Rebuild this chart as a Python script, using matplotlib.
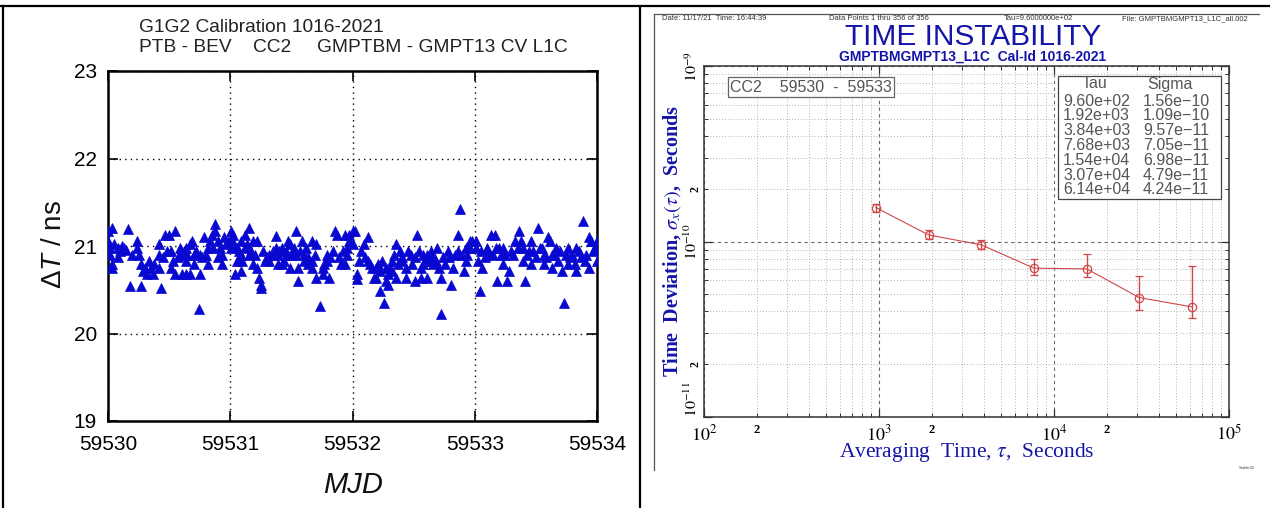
import numpy as np
import matplotlib
matplotlib.use("Agg")
import matplotlib.pyplot as plt
from matplotlib.lines import Line2D
from matplotlib.patches import Rectangle
from matplotlib.ticker import FixedLocator, FixedFormatter

# ---------------------------------------------------------------- data
MJD0 = 59530

day_offset = [
    0.000, 0.000, 0.017, 0.017, 0.033, 0.033, 0.033, 0.050, 0.084, 0.084,
    0.100, 0.117, 0.130, 0.150, 0.167, 0.184, 0.200, 0.234, 0.234, 0.251,
    0.267, 0.267, 0.284, 0.300, 0.317, 0.334, 0.350, 0.368, 0.380, 0.418,
    0.418, 0.418, 0.434, 0.450, 0.468, 0.480, 0.501, 0.518, 0.518, 0.530,
    0.551, 0.551, 0.570, 0.585, 0.585, 0.602, 0.620, 0.635, 0.635, 0.635,
    0.650, 0.668, 0.668, 0.685, 0.702, 0.702, 0.720, 0.742, 0.752, 0.752,
    0.770, 0.785, 0.802, 0.819, 0.819, 0.835, 0.852, 0.860, 0.879, 0.879,
    0.902, 0.902, 0.920, 0.936, 0.936, 0.952, 0.969, 0.985,
    1.003, 1.003, 1.003, 1.020, 1.030, 1.037, 1.053, 1.053, 1.070, 1.087,
    1.087, 1.087, 1.100, 1.120, 1.120, 1.140, 1.154, 1.154, 1.170, 1.187,
    1.187, 1.200, 1.221, 1.221, 1.237, 1.254, 1.254, 1.271, 1.287, 1.300,
    1.321, 1.321, 1.338, 1.350, 1.371, 1.371, 1.388, 1.388, 1.400, 1.421,
    1.421, 1.440, 1.454, 1.454, 1.471, 1.488, 1.488, 1.505, 1.520, 1.538,
    1.538, 1.555, 1.555, 1.570, 1.588, 1.605, 1.605, 1.620, 1.638, 1.638,
    1.672, 1.672, 1.672, 1.690, 1.705, 1.705, 1.732, 1.755, 1.755, 1.770,
    1.789, 1.789, 1.805, 1.820, 1.839, 1.855, 1.872, 1.890, 1.906, 1.920,
    1.939, 1.939, 1.956, 1.956, 1.972, 1.972,
    2.007, 2.007, 2.023, 2.040, 2.040, 2.057, 2.070, 2.090, 2.100, 2.124,
    2.124, 2.140, 2.157, 2.174, 2.190, 2.190, 2.210, 2.224, 2.224, 2.241,
    2.257, 2.274, 2.274, 2.291, 2.291, 2.310, 2.324, 2.324, 2.340, 2.358,
    2.358, 2.374, 2.390, 2.408, 2.408, 2.441, 2.441, 2.458, 2.475, 2.490,
    2.508, 2.508, 2.525, 2.540, 2.558, 2.558, 2.575, 2.575, 2.590, 2.608,
    2.608, 2.625, 2.640, 2.658, 2.658, 2.680, 2.692, 2.709, 2.725, 2.725,
    2.740, 2.759, 2.780, 2.792, 2.809, 2.825, 2.840, 2.859, 2.859, 2.876,
    2.892, 2.909, 2.926, 2.926, 2.940, 2.959, 2.959, 2.976,
    3.013, 3.013, 3.030, 3.047, 3.050, 3.063, 3.080, 3.097, 3.097, 3.110,
    3.130, 3.147, 3.164, 3.170, 3.180, 3.197, 3.214, 3.231, 3.231, 3.250,
    3.264, 3.281, 3.300, 3.314, 3.331, 3.350, 3.364, 3.381, 3.398, 3.398,
    3.414, 3.431, 3.440, 3.464, 3.464, 3.480, 3.498, 3.515, 3.531, 3.550,
    3.565, 3.565, 3.580, 3.598, 3.615, 3.632, 3.632, 3.650, 3.665, 3.682,
    3.700, 3.715, 3.732, 3.749, 3.765, 3.765, 3.780, 3.799, 3.816, 3.832,
    3.832, 3.850, 3.866, 3.882, 3.899, 3.910, 3.933, 3.933, 3.949, 3.966,
    3.980, 3.999, 3.999,
]

delta_t_ns = [
    21.17, 21.06, 20.98, 20.90, 20.79, 20.75, 21.21, 21.02, 20.98, 20.87,
    20.94, 21.00, 20.98, 20.96, 21.19, 20.54, 20.90, 21.06, 20.98, 20.90,
    20.54, 20.79, 20.71, 20.75, 20.68, 20.83, 20.75, 20.68, 20.79, 21.02,
    20.90, 20.75, 20.52, 20.87, 21.13, 20.94, 21.13, 20.94, 20.75, 20.83,
    21.17, 20.68, 20.87, 20.98, 20.90, 20.68, 20.94, 20.98, 20.83, 20.68,
    20.90, 21.02, 20.68, 21.06, 20.90, 20.79, 20.94, 20.28, 20.68, 20.90,
    20.87, 21.10, 20.90, 20.79, 20.98, 21.06, 21.13, 20.98, 21.25, 21.17,
    21.06, 20.87, 20.98, 20.90, 20.79, 21.10, 21.02, 21.06,
    21.17, 21.06, 20.98, 21.13, 21.02, 20.68, 20.83, 20.98, 20.94, 21.06,
    20.90, 20.71, 20.83, 21.13, 20.98, 21.02, 21.21, 20.90, 20.94, 21.06,
    20.79, 20.90, 21.06, 20.75, 20.64, 20.52, 20.56, 20.94, 20.83, 20.87,
    20.83, 20.90, 20.90, 20.94, 21.11, 20.98, 20.79, 20.90, 20.94, 20.79,
    20.98, 20.83, 20.94, 20.90, 21.06, 20.75, 21.02, 20.90, 20.98, 21.17,
    20.90, 20.75, 20.60, 20.94, 21.06, 20.83, 20.90, 20.98, 20.79, 20.87,
    21.06, 20.75, 20.83, 20.90, 20.64, 21.02, 20.31, 20.75, 20.68, 20.79,
    20.83, 20.90, 20.64, 20.87, 20.94, 21.17, 21.13, 20.87, 20.79, 20.94,
    21.13, 20.79, 20.98, 20.90, 21.06, 21.13,
    21.17, 21.02, 21.17, 20.68, 20.62, 20.83, 20.94, 21.02, 20.87, 21.10,
    20.83, 20.79, 20.75, 20.64, 20.64, 20.75, 20.79, 20.71, 20.49, 20.83,
    20.35, 20.75, 20.60, 20.68, 20.56, 20.75, 20.71, 20.83, 20.90, 21.02,
    20.64, 20.79, 20.94, 20.83, 20.87, 20.75, 20.64, 20.94, 20.90, 20.79,
    20.87, 20.60, 21.13, 20.94, 20.75, 20.64, 20.90, 20.79, 20.83, 20.64,
    20.90, 20.83, 20.94, 20.79, 20.87, 20.83, 20.98, 20.75, 20.22, 20.64,
    20.87, 20.79, 20.94, 20.87, 20.56, 20.75, 20.90, 21.13, 20.94, 21.42,
    20.90, 20.71, 20.83, 20.98, 20.90, 20.98, 21.06, 21.06,
    21.06, 20.98, 20.83, 20.49, 20.94, 20.75, 20.87, 20.90, 20.98, 20.94,
    21.13, 20.90, 21.13, 20.98, 20.60, 20.98, 20.90, 20.79, 20.98, 20.90,
    20.60, 20.71, 20.94, 20.90, 21.06, 20.98, 21.17, 21.06, 20.83, 20.98,
    20.60, 20.90, 20.94, 20.79, 21.06, 20.94, 20.87, 21.21, 20.98, 20.98,
    20.90, 20.79, 20.87, 21.10, 21.06, 20.90, 20.75, 20.90, 20.98, 20.83,
    20.94, 20.71, 20.35, 20.90, 20.98, 20.79, 20.87, 20.90, 20.79, 20.71,
    20.98, 20.94, 20.87, 21.29, 20.83, 20.90, 21.10, 20.75, 21.06, 20.94,
    20.98, 20.83, 21.06,
]

mjd_ticks = [59530, 59531, 59532, 59533, 59534]
dt_ticks = [19, 20, 21, 22, 23]

# time deviation results (Stable32 run)
tau_s = [960, 1920, 3840, 7680, 15400, 30700, 61400]
tdev_s = [1.56e-10, 1.09e-10, 9.57e-11, 7.05e-11, 6.98e-11, 4.79e-11, 4.24e-11]
tdev_low = [1.48e-10, 1.03e-10, 9.05e-11, 6.43e-11, 6.26e-11, 4.07e-11, 3.68e-11]
tdev_high = [1.64e-10, 1.16e-10, 1.02e-10, 7.93e-11, 8.47e-11, 6.34e-11, 7.23e-11]

tau_decades = [1e2, 1e3, 1e4, 1e5]
tau_decade_labels = [r"$10^{2}$", r"$10^{3}$", r"$10^{4}$", r"$10^{5}$"]
sig_decades = [1e-11, 1e-10, 1e-9]
sig_decade_labels = [r"$10^{-11}$", r"$10^{-10}$", r"$10^{-9}$"]

# ---------------------------------------------------------------- style
plt.rcParams["font.family"] = ["Liberation Sans", "DejaVu Sans"]
plt.rcParams["mathtext.fontset"] = "stix"
plt.rcParams["mathtext.rm"] = "Liberation Sans"
plt.rcParams["mathtext.it"] = "Liberation Sans:italic"
plt.rcParams["mathtext.bf"] = "Liberation Sans:bold"

W, H = 1270, 508
fig = plt.figure(figsize=(W / 100, H / 100), dpi=100)
fig.patch.set_facecolor("white")


def fx(x):
    return x / W


def fy(y):
    return 1 - y / H


BLUE = "#0808d0"
NAVY = "#1414a8"
RED = "#d04848"

# page frame and panel divider
for xs, ys in [((0, W), (6, 6)), ((3, 3), (6, H)), ((640, 640), (6, H))]:
    fig.add_artist(Line2D([fx(v) for v in xs], [fy(v) for v in ys],
                          transform=fig.transFigure, color="black", lw=1.6))

# ---------------------------------------------------------------- left panel
axL = fig.add_axes([fx(108), fy(421), fx(489), 350 / H])
axL.plot(MJD0 + np.asarray(day_offset), delta_t_ns, ls="none", marker="^",
         ms=7.8, mfc=BLUE, mec=BLUE, mew=0.5, zorder=3)
axL.set_xlim(mjd_ticks[0], mjd_ticks[-1])
axL.set_ylim(dt_ticks[0], dt_ticks[-1])
axL.set_xticks(mjd_ticks)
axL.set_xticklabels([str(v) for v in mjd_ticks])
axL.set_yticks(dt_ticks)
axL.set_yticklabels([str(v) for v in dt_ticks])
axL.grid(True, ls=(0, (1, 3)), color="black", lw=1.0)
axL.tick_params(direction="in", length=7, width=1.2, top=True, right=True,
                labelsize=15, colors="black")
axL.tick_params(axis="x", pad=10)
axL.tick_params(axis="y", pad=8)
for s in axL.spines.values():
    s.set_linewidth(1.8)

top_txt = dict(fontsize=13.8, ha="left", va="center", color="#222222")
fig.text(fx(139), fy(27), "G1G2 Calibration 1016-2021", **top_txt)
fig.text(fx(139), fy(48), "PTB - BEV", **top_txt)
fig.text(fx(253), fy(48), "CC2", **top_txt)
fig.text(fx(317), fy(48), "GMPTBM - GMPT13 CV L1C", **top_txt)
fig.text(fx(54), fy(245), r"$\Delta T$ / ns", fontsize=20, rotation=90,
         ha="center", va="center", math_fontfamily="custom", color="#111111")
fig.text(fx(353), fy(485), "MJD", fontsize=21, style="italic", ha="center",
         va="center", color="#111111")

# ---------------------------------------------------------------- right panel
# screenshot frame
for xs, ys in [((654, 1259), (14, 14)), ((654, 654), (14, 470))]:
    fig.add_artist(Line2D([fx(v) for v in xs], [fy(v) for v in ys],
                          transform=fig.transFigure, color="#555555", lw=0.9))

axR = fig.add_axes([fx(704), fy(417), fx(525), 351 / H])
axR.set_xscale("log")
axR.set_yscale("log")
axR.set_xlim(tau_decades[0], tau_decades[-1])
axR.set_ylim(sig_decades[0], sig_decades[-1])

axR.xaxis.set_major_locator(FixedLocator(tau_decades))
axR.xaxis.set_major_formatter(FixedFormatter(tau_decade_labels))
xminor = [m * d for d in tau_decades[:-1] for m in range(2, 10)]
axR.xaxis.set_minor_locator(FixedLocator(xminor))
axR.xaxis.set_minor_formatter(FixedFormatter(
    ["2" if m == 2 else "" for d in tau_decades[:-1] for m in range(2, 10)]))

axR.yaxis.set_major_locator(FixedLocator(sig_decades))
axR.yaxis.set_major_formatter(FixedFormatter(sig_decade_labels))
yminor = [m * d for d in sig_decades[:-1] for m in range(2, 10)]
axR.yaxis.set_minor_locator(FixedLocator(yminor))
axR.yaxis.set_minor_formatter(FixedFormatter(
    ["2" if m == 2 else "" for d in sig_decades[:-1] for m in range(2, 10)]))

axR.grid(which="minor", ls=(0, (1, 2.5)), color="#9a9a9a", lw=0.6)
axR.grid(which="major", ls=(0, (3, 3)), color="#6a6a6a", lw=0.8)
axR.tick_params(which="both", direction="in", top=True, right=True,
                colors="#333333", labelcolor="black",
                labelfontfamily="Liberation Serif")
axR.tick_params(axis="x", which="major", length=6, width=0.9, labelsize=13, pad=5)
axR.tick_params(axis="x", which="minor", length=3, width=0.7, labelsize=9, pad=5)
axR.tick_params(axis="y", which="major", length=6, width=0.9, labelsize=11.5,
                labelrotation=90, pad=2)
axR.tick_params(axis="y", which="minor", length=3, width=0.7, labelsize=8.5,
                labelrotation=90, pad=2)
for lab in axR.get_xticklabels(which="minor"):
    lab.set_fontweight("bold")
for lab in axR.get_yticklabels(which="minor"):
    lab.set_fontweight("bold")
    lab.set_va("center")
ymaj_labels = axR.get_yticklabels(which="major")
for lab in ymaj_labels:
    lab.set_va("center")
ymaj_labels[0].set_va("bottom")
for s in axR.spines.values():
    s.set_linewidth(1.1)
    s.set_color("#333333")

yerr = [np.asarray(tdev_s) - np.asarray(tdev_low),
        np.asarray(tdev_high) - np.asarray(tdev_s)]
axR.errorbar(tau_s, tdev_s, yerr=yerr, color=RED, lw=0.8, elinewidth=1.0,
             capsize=3, capthick=1.0, marker="o", ms=6, mfc="none", mec=RED,
             mew=0.9, zorder=4)

# header strip
hdr = dict(fontsize=5.5, color="#333333", ha="left", va="center")
fig.text(fx(662), fy(19), "Date: 11/17/21  Time: 16:44:39", **hdr)
fig.text(fx(829), fy(19), "Data Points 1 thru 356 of 356", **hdr)
fig.text(fx(1004), fy(19), "Tau=9.6000000e+02", **hdr)
fig.text(fx(1122), fy(19), "File: GMPTBMGMPT13_L1C_all.002", **hdr)

fig.text(fx(973), fy(37), "TIME INSTABILITY", fontsize=21.5, color=NAVY,
         ha="center", va="center")
fig.text(fx(973), fy(57), "GMPTBMGMPT13_L1C  Cal-Id 1016-2021", fontsize=10,
         color=NAVY, ha="center", va="center", weight="bold")

fig.text(fx(672), fy(241), r"Time  Deviation, $\sigma_x(\tau)$,  Seconds",
         fontsize=14.5, rotation=90, ha="center", va="center", color=NAVY,
         family="Liberation Serif", weight="bold", math_fontfamily="stix")
fig.text(fx(967), fy(453), r"Averaging  Time, $\tau$,  Seconds", fontsize=15.5,
         ha="center", va="center", color=NAVY, family="Liberation Serif",
         math_fontfamily="stix")

# measurement span label
fig.text(fx(730), fy(87), "CC2    59530  -  59533", fontsize=11.5,
         color="#555555", ha="left", va="center",
         bbox=dict(boxstyle="square,pad=0.15", fc="white", ec="#666666", lw=0.9))

# result table
fig.add_artist(Rectangle((fx(1058), fy(199)), fx(163), 123 / H,
                         transform=fig.transFigure, fc="white", ec="#444444",
                         lw=0.9))
tbl = dict(fontsize=11.5, color="#555555", va="center")
fig.text(fx(1094), fy(84), "Tau", ha="center", **tbl)
fig.text(fx(1170), fy(84), "Sigma", ha="center", **tbl)
for i, (t, s) in enumerate(zip(tau_s, tdev_s)):
    y = 101 + i * 14.8
    fig.text(fx(1063), fy(y), f"{t:.2e}", ha="left", **tbl)
    fig.text(fx(1143), fy(y), f"{s:.2e}".replace("-", "\u2212"), ha="left", **tbl)

fig.text(fx(1247), fy(468), "Stable32", fontsize=3, color="#444444",
         ha="center", va="center")

fig.savefig("out.png", dpi=100, facecolor="white")
